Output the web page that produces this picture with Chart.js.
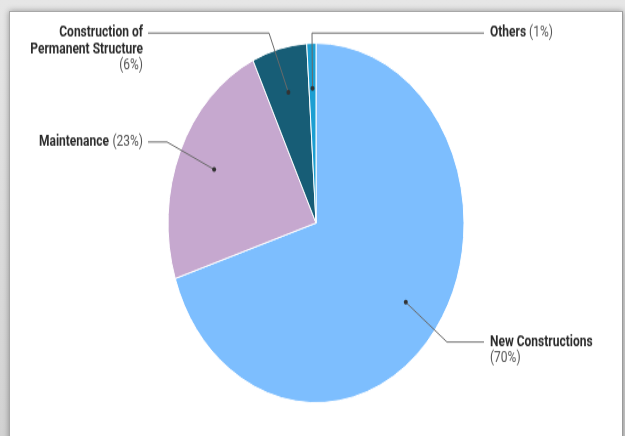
<!DOCTYPE html>
<html>
<head>
<meta charset="utf-8">
<script src="https://cdn.jsdelivr.net/npm/chart.js@4.4.1/dist/chart.umd.min.js"></script>
<style>
  html, body { margin: 0; padding: 0; }
  body {
    width: 625px; height: 436px; overflow: hidden; position: relative;
    background: linear-gradient(#e6e6e6, #d2d2d2);
  }
  #panel {
    position: absolute; left: 9px; top: 11px; width: 612px; height: 440px;
    background: #fff;
    border-left: 1px solid #a8a8a8; border-top: 1px solid #a8a8a8; border-right: 1px solid #9a9a9a;
    box-shadow: 0 0 6px rgba(0, 0, 0, 0.35);
  }
  /* the reference is stretched vertically, so the chart is too */
  #wrap {
    position: absolute; left: 0; top: 0; width: 625px; height: 359px;
    transform: scaleY(1.2145); transform-origin: 0 0;
  }
</style>
</head>
<body>
<div id="panel"></div>
<div id="wrap"><canvas id="myChart" width="625" height="359"></canvas></div>
<script>
const categories = ["New Constructions", "Maintenance", "Construction of Permanent Structure", "Others"];
const shares = [70, 23, 6, 1];
const sliceColors = ["#7dbefe", "#c6a8cf", "#175d76", "#1c9fd2"];

// where each label sits (side, elbow of the leader line, first text line)
const labelLayout = [
  { side: "right", lines: ["New Constructions"], pctBelow: true, elbowX: 447, y: 281.6 },
  { side: "left", lines: ["Maintenance"], pctBelow: false, elbowX: 167, y: 116.9 },
  { side: "left", lines: ["Construction of", "Permanent Structure"], pctBelow: true, elbowX: 269, y: 27.2 },
  { side: "right", lines: ["Others"], pctBelow: false, elbowX: 312, y: 27.2 }
];

var leaderLabels = {
  id: "leaderLabels",
  afterDatasetsDraw: function (chart) {
    var ctx = chart.ctx;
    var meta = chart.getDatasetMeta(0);
    var lineH = 13.4;
    ctx.save();
    meta.data.forEach(function (arc, i) {
      var p = arc.getProps(["x", "y", "startAngle", "endAngle", "outerRadius"], true);
      var mid = (p.startAngle + p.endAngle) / 2;
      var dx = p.x + Math.cos(mid) * p.outerRadius * 0.75;
      var dy = p.y + Math.sin(mid) * p.outerRadius * 0.75;
      var lay = labelLayout[i];
      var pct = "(" + shares[i] + "%)";
      var lineEnd = lay.side === "right" ? 484 : 148;
      var textX = lay.side === "right" ? 490 : 143;

      // leader line
      ctx.strokeStyle = "#6a6a6a";
      ctx.lineWidth = 1;
      ctx.beginPath();
      ctx.moveTo(dx, dy);
      ctx.lineTo(lay.elbowX, lay.y);
      ctx.lineTo(lineEnd, lay.y);
      ctx.stroke();

      // dot
      ctx.fillStyle = "#333";
      ctx.beginPath();
      ctx.arc(dx, dy, 2, 0, Math.PI * 2);
      ctx.fill();

      // text
      ctx.textBaseline = "middle";
      ctx.textAlign = lay.side === "right" ? "left" : "right";
      var boldFont = "bold 12px Roboto";
      var normFont = "12px Roboto";
      lay.lines.forEach(function (t, k) {
        var ty = lay.y + k * lineH;
        if (!lay.pctBelow && k === lay.lines.length - 1) {
          ctx.font = normFont;
          var pw = ctx.measureText(pct).width;
          ctx.font = boldFont;
          var nw = ctx.measureText(t + " ").width;
          if (lay.side === "right") {
            ctx.fillStyle = "#2b2b2b";
            ctx.fillText(t, textX, ty);
            ctx.font = normFont;
            ctx.fillStyle = "#555";
            ctx.fillText(pct, textX + nw, ty);
          } else {
            ctx.font = normFont;
            ctx.fillStyle = "#555";
            ctx.fillText(pct, textX, ty);
            ctx.font = boldFont;
            ctx.fillStyle = "#2b2b2b";
            ctx.fillText(t, textX - pw - 3.5, ty);
          }
        } else {
          ctx.font = boldFont;
          ctx.fillStyle = "#2b2b2b";
          ctx.fillText(t, textX, ty);
        }
      });
      if (lay.pctBelow) {
        ctx.font = normFont;
        ctx.fillStyle = "#555";
        ctx.fillText(pct, textX, lay.y + lay.lines.length * lineH);
      }
    });
    ctx.restore();
  }
};

var ctx = document.getElementById("myChart").getContext("2d");
var chart = new Chart(ctx, {
  type: "pie",
  data: {
    labels: categories,
    datasets: [
      {
        data: shares,
        backgroundColor: sliceColors,
        borderColor: "#ffffff",
        borderWidth: 1,
        radius: 148,
        hoverOffset: 0
      }
    ]
  },
  options: {
    responsive: false,
    devicePixelRatio: 1,
    animation: false,
    layout: { padding: { top: 35.6, bottom: 27.4, left: 100, right: 93 } },
    plugins: {
      legend: { display: false },
      tooltip: { enabled: false }
    }
  },
  plugins: [leaderLabels]
});
</script>
</body>
</html>
